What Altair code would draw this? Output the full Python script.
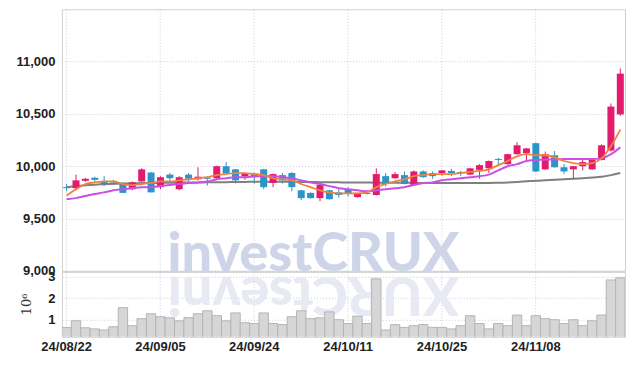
import altair as alt
import pandas as pd

dates = [
    "24/08/22", "24/08/23", "24/08/26", "24/08/27", "24/08/28", "24/08/29", "24/08/30",
    "24/09/02", "24/09/03", "24/09/04", "24/09/05", "24/09/06", "24/09/09", "24/09/10",
    "24/09/11", "24/09/12", "24/09/13", "24/09/19", "24/09/20", "24/09/23", "24/09/24",
    "24/09/25", "24/09/26", "24/09/27", "24/09/30", "24/10/02", "24/10/04", "24/10/07",
    "24/10/08", "24/10/10", "24/10/11", "24/10/14", "24/10/15", "24/10/16", "24/10/17",
    "24/10/18", "24/10/21", "24/10/22", "24/10/23", "24/10/24", "24/10/25", "24/10/28",
    "24/10/29", "24/10/30", "24/10/31", "24/11/01", "24/11/04", "24/11/05", "24/11/06",
    "24/11/07", "24/11/08", "24/11/11", "24/11/12", "24/11/13", "24/11/14", "24/11/15",
    "24/11/18", "24/11/19", "24/11/20", "24/11/21",
]
label_dates = ["24/08/22", "24/09/05", "24/09/24", "24/10/11", "24/10/25", "24/11/08"]

open_ = [9800, 9790, 9860, 9890, 9855, 9845, 9840, 9780, 9855, 9940,
         9800, 9920, 9780, 9920, 9875, 9890, 9885, 10000, 9970, 9905,
         9930, 9970, 9840, 9915, 9935, 9770, 9745, 9695, 9770, 9750,
         9780, 9705, 9745, 9725, 9905, 9885, 9915, 9820, 9950, 9935,
         9935, 9955, 9945, 9920, 9965, 9980, 10070, 10020, 10115, 10125,
         10220, 9970, 10105, 9990, 9970, 10000, 9970, 10060, 10150, 10495]
high = [9830, 9920, 9890, 9900, 9905, 9870, 9845, 9855, 9980, 9945,
        9905, 9935, 9905, 9935, 9990, 9900, 10005, 10040, 9975, 9935,
        9940, 9975, 9930, 9935, 9945, 9775, 9750, 9820, 9775, 9780,
        9800, 9745, 9770, 9980, 9935, 9945, 9950, 9960, 9960, 9950,
        9965, 9975, 9955, 9985, 10020, 10055, 10080, 10120, 10230, 10175,
        10225, 10140, 10145, 10020, 10000, 10075, 10075, 10210, 10600, 10935]
low = [9760, 9770, 9850, 9850, 9810, 9820, 9745, 9770, 9850, 9750,
       9780, 9860, 9770, 9840, 9865, 9815, 9880, 9925, 9835, 9870,
       9835, 9780, 9800, 9835, 9760, 9675, 9690, 9665, 9680, 9700,
       9710, 9700, 9730, 9720, 9805, 9880, 9825, 9815, 9890, 9880,
       9910, 9905, 9905, 9915, 9880, 9935, 10000, 10015, 10110, 10050,
       9945, 9965, 9985, 9925, 9880, 9960, 9965, 10055, 10140, 10480]
close = [9790, 9865, 9880, 9870, 9830, 9830, 9745, 9845, 9970, 9750,
         9895, 9885, 9895, 9880, 9900, 9880, 10000, 9930, 9865, 9930,
         9895, 9800, 9925, 9865, 9800, 9695, 9695, 9820, 9685, 9725,
         9735, 9745, 9735, 9925, 9830, 9925, 9830, 9950, 9895, 9905,
         9960, 9935, 9935, 9980, 10010, 10050, 10060, 10115, 10200, 10170,
         9950, 10115, 9990, 9950, 10000, 10040, 10060, 10200, 10570, 10885]

ma_short = [9720, 9780, 9830, 9845, 9855, 9855, 9830, 9820, 9830, 9840,
            9855, 9855, 9865, 9875, 9885, 9895, 9915, 9925, 9935, 9935,
            9925, 9915, 9885, 9875, 9865, 9830, 9800, 9770, 9750, 9740,
            9740, 9740, 9750, 9800, 9830, 9855, 9875, 9905, 9915, 9925,
            9925, 9925, 9935, 9945, 9955, 9970, 10010, 10050, 10095, 10115,
            10105, 10105, 10085, 10050, 10030, 10020, 10030, 10075, 10190, 10350]
ma_mid = [9685, 9695, 9715, 9735, 9750, 9770, 9780, 9790, 9800, 9800,
          9810, 9820, 9830, 9840, 9845, 9855, 9875, 9885, 9895, 9895,
          9905, 9905, 9905, 9895, 9885, 9865, 9845, 9830, 9810, 9790,
          9780, 9770, 9760, 9770, 9780, 9790, 9800, 9820, 9840, 9845,
          9865, 9875, 9885, 9895, 9905, 9920, 9960, 10000, 10020, 10050,
          10060, 10065, 10065, 10070, 10070, 10070, 10070, 10075, 10115, 10180]
ma_long = [9800, 9810, 9818, 9824, 9828, 9832, 9835, 9837, 9839, 9840,
           9841, 9842, 9843, 9844, 9845, 9846, 9847, 9848, 9849, 9850,
           9851, 9852, 9852, 9852, 9851, 9850, 9849, 9848, 9847, 9846,
           9845, 9845, 9844, 9843, 9843, 9842, 9842, 9841, 9840, 9840,
           9840, 9840, 9840, 9840, 9840, 9840, 9842, 9845, 9850, 9856,
           9862, 9866, 9870, 9875, 9880, 9886, 9892, 9900, 9915, 9935]

volume_m = [0.61, 0.93, 0.60, 0.55, 0.50, 0.65, 1.55, 0.70, 1.03, 1.26,
            1.12, 1.07, 0.93, 1.08, 1.26, 1.40, 1.17, 0.93, 1.30, 0.84,
            0.80, 1.30, 0.80, 0.75, 1.12, 1.40, 1.03, 1.07, 1.35, 0.98,
            0.80, 1.15, 0.80, 2.90, 0.50, 0.75, 0.62, 0.70, 0.75, 0.62,
            0.62, 0.55, 0.70, 1.17, 0.80, 0.55, 0.80, 0.70, 1.20, 0.70,
            1.17, 1.03, 0.98, 0.80, 0.98, 0.70, 0.93, 1.20, 2.85, 2.95]

df = pd.DataFrame({
    "date": dates, "open": open_, "high": high, "low": low, "close": close,
    "ma_short": ma_short, "ma_mid": ma_mid, "ma_long": ma_long, "volume": volume_m,
})
df["dir"] = ["up" if c >= o else "down" for o, c in zip(open_, close)]

FONT = "Liberation Sans, Arial, sans-serif"
W = 564
PH = 262
VH = 65
GRID = "#c9cde0"

xscale = alt.Scale(domain=dates, paddingInner=0, paddingOuter=0)
color = alt.Color("dir:N", scale=alt.Scale(domain=["up", "down"], range=["#e31b6d", "#2b95c8"]), legend=None)

base = alt.Chart(df)
x_price = alt.X("date:N", scale=xscale, sort=dates,
                axis=alt.Axis(values=label_dates, labels=False, ticks=False, domain=False,
                              grid=True, gridColor=GRID, gridDash=[1, 2], title=None))
yscale = alt.Scale(domain=[9000, 11500], nice=False, zero=False)
y_axis = alt.Axis(values=[9000, 9500, 10000, 10500, 11000], format=",.0f", title=None,
                  ticks=False, domain=False, grid=True, gridColor=GRID, gridDash=[1, 2],
                  labelPadding=7)

wicks = base.mark_rule(strokeWidth=1).encode(
    x=x_price, y=alt.Y("low:Q", scale=yscale, axis=y_axis), y2="high:Q", color=color)
bodies = base.mark_bar(size=7, stroke=None).encode(
    x=alt.X("date:N", scale=xscale, sort=dates), y=alt.Y("open:Q", scale=yscale), y2="close:Q", color=color)

def ma_line(field, col, w):
    return base.mark_line(color=col, strokeWidth=w, interpolate="monotone").encode(
        x=alt.X("date:N", scale=xscale, sort=dates), y=alt.Y(f"{field}:Q", scale=yscale))

watermark = alt.Chart(pd.DataFrame({"t": ["investCRUX"]})).mark_text(
    font="Lato, Open Sans, sans-serif", fontWeight=900, fontSize=54, color="#cfd5e9",
    align="center", baseline="alphabetic").encode(
    text="t:N", x=alt.value(252), y=alt.value(PH))

price = alt.layer(
    watermark, ma_line("ma_long", "#7f7f7f", 2), wicks, bodies,
    ma_line("ma_mid", "#c94fe6", 2), ma_line("ma_short", "#f0823f", 1.8),
).properties(width=W, height=PH)

reflection = alt.Chart(pd.DataFrame({"t": ["XURCtsevni"]})).mark_text(
    font="Lato, Open Sans, sans-serif", fontWeight=900, fontSize=54, color="#e7e9f3",
    align="center", baseline="alphabetic", angle=180).encode(
    text="t:N", x=alt.value(252), y=alt.value(5))

vscale = alt.Scale(domain=[0.18, 3.23], nice=False, zero=False)
vol_bars = base.mark_bar(fill="#d6d6d6", stroke="#b5b5b5", strokeWidth=1, clip=True).encode(
    x=alt.X("date:N", scale=xscale, sort=dates,
            axis=alt.Axis(values=label_dates, labelAngle=0, ticks=False, domain=False,
                          grid=True, gridColor=GRID, gridDash=[1, 2], title=None,
                          labelPadding=4)),
    y=alt.Y("volume:Q", scale=vscale,
            axis=alt.Axis(values=[1, 2, 3], format="d", title="10⁶", ticks=False, domain=False,
                          grid=True, gridColor=GRID, gridDash=[1, 2], labelPadding=7,
                          titleX=-28, titleY=32,
                          titleAngle=-90, titleFontWeight="normal", titleFontSize=13,
                          titleFont="DejaVu Serif, serif", titleColor="#333")),
    y2=alt.datum(0),
)
volume = alt.layer(reflection, vol_bars).properties(width=W, height=VH)

chart = alt.vconcat(price, volume, spacing=1, bounds="flush").properties(
    padding={"left": 6, "top": 0, "right": 0, "bottom": 0}, background="white"
).configure_view(stroke="#d0d0d0").configure_axis(
    labelFont=FONT, labelFontSize=13, labelFontWeight="bold", labelColor="#222"
)

chart.save("out.html", embed_options={"renderer": "svg", "actions": False})
